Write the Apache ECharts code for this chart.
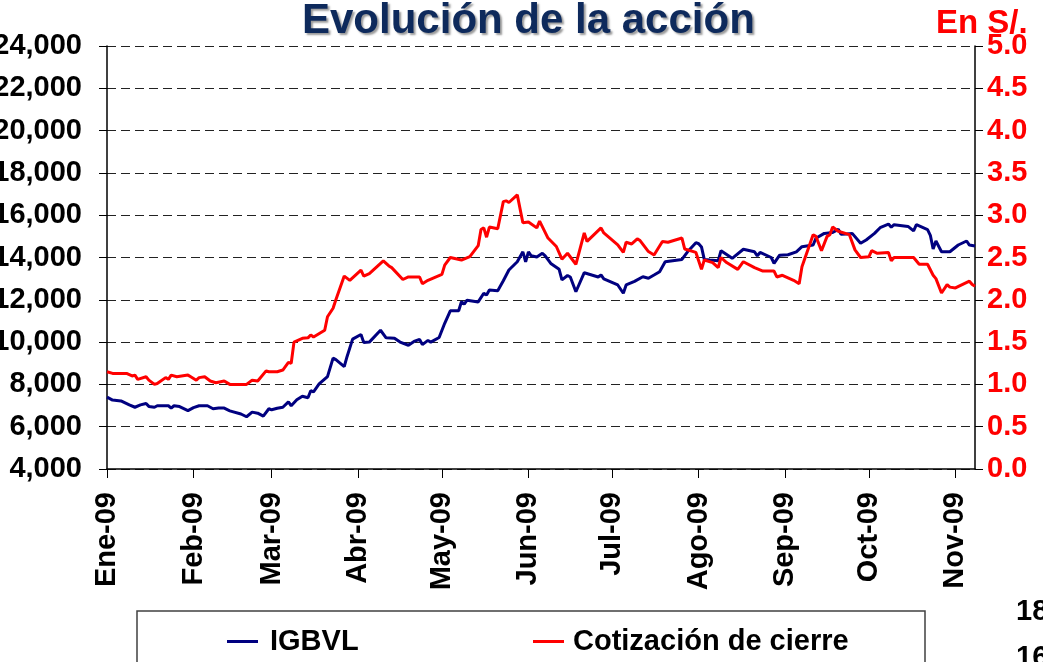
<!DOCTYPE html>
<html>
<head>
<meta charset="utf-8">
<script src="https://cdn.jsdelivr.net/npm/echarts@6/dist/echarts.min.js"></script>
<style>
  html, body { margin: 0; padding: 0; background: #fff; }
  #chart { width: 1043px; height: 662px; }
</style>
</head>
<body>
<div id="chart"></div>
<script>
// Month abbreviations used for the date axis labels
const monthNames = ['Ene', 'Feb', 'Mar', 'Abr', 'May', 'Jun', 'Jul', 'Ago', 'Sep', 'Oct', 'Nov', 'Dic'];
const firstDay = '2009-01-01';
const lastDay = '2009-11-08';

// IGBVL index (left axis)
const igbvl = [
  ['2009-01-01', 7400], ['2009-01-03', 7260], ['2009-01-06', 7220], ['2009-01-09', 7030],
  ['2009-01-11', 6920], ['2009-01-13', 7030], ['2009-01-15', 7100], ['2009-01-16', 6960],
  ['2009-01-18', 6920], ['2009-01-19', 6990], ['2009-01-23', 6990], ['2009-01-24', 6880],
  ['2009-01-25', 6990], ['2009-01-27', 6950], ['2009-01-30', 6760], ['2009-02-01', 6900],
  ['2009-02-03', 6990], ['2009-02-06', 6990], ['2009-02-08', 6850], ['2009-02-10', 6880],
  ['2009-02-12', 6880], ['2009-02-14', 6750], ['2009-02-18', 6600], ['2009-02-20', 6470],
  ['2009-02-22', 6690], ['2009-02-24', 6640], ['2009-02-26', 6500], ['2009-02-28', 6850],
  ['2009-03-01', 6800], ['2009-03-03', 6870], ['2009-03-05', 6920], ['2009-03-07', 7170],
  ['2009-03-08', 6990], ['2009-03-10', 7270], ['2009-03-12', 7440], ['2009-03-14', 7370],
  ['2009-03-15', 7700], ['2009-03-16', 7650], ['2009-03-18', 8020], ['2009-03-21', 8370],
  ['2009-03-23', 9240], ['2009-03-24', 9170], ['2009-03-27', 8840], ['2009-03-28', 9310],
  ['2009-03-30', 10140], ['2009-04-02', 10360], ['2009-04-03', 9980], ['2009-04-05', 10000],
  ['2009-04-09', 10560], ['2009-04-11', 10200], ['2009-04-14', 10180], ['2009-04-16', 10000],
  ['2009-04-19', 9850], ['2009-04-21', 10030], ['2009-04-23', 10130], ['2009-04-24', 9880],
  ['2009-04-26', 10080], ['2009-04-27', 10000], ['2009-04-30', 10220], ['2009-05-02', 10890],
  ['2009-05-04', 11480], ['2009-05-07', 11480], ['2009-05-08', 11910], ['2009-05-09', 11800],
  ['2009-05-10', 11980], ['2009-05-14', 11900], ['2009-05-16', 12310], ['2009-05-17', 12230],
  ['2009-05-18', 12460], ['2009-05-21', 12430], ['2009-05-23', 12900], ['2009-05-25', 13410],
  ['2009-05-28', 13800], ['2009-05-30', 14270], ['2009-05-31', 13800], ['2009-06-01', 14270],
  ['2009-06-02', 14080], ['2009-06-04', 14020], ['2009-06-06', 14200], ['2009-06-07', 14080],
  ['2009-06-09', 13720], ['2009-06-12', 13440], ['2009-06-13', 12940], ['2009-06-15', 13150],
  ['2009-06-16', 13080], ['2009-06-18', 12380], ['2009-06-21', 13280], ['2009-06-26', 13080],
  ['2009-06-27', 13180], ['2009-06-28', 12990], ['2009-07-03', 12700], ['2009-07-05', 12310],
  ['2009-07-06', 12700], ['2009-07-09', 12870], ['2009-07-12', 13090], ['2009-07-14', 13020],
  ['2009-07-16', 13170], ['2009-07-18', 13330], ['2009-07-20', 13800], ['2009-07-26', 13910],
  ['2009-07-28', 14270], ['2009-07-31', 14700], ['2009-08-01', 14650], ['2009-08-02', 14500],
  ['2009-08-03', 13910], ['2009-08-05', 13880], ['2009-08-08', 13850], ['2009-08-09', 14320],
  ['2009-08-13', 13960], ['2009-08-17', 14390], ['2009-08-21', 14270], ['2009-08-22', 14080],
  ['2009-08-23', 14240], ['2009-08-27', 14000], ['2009-08-28', 13720], ['2009-08-30', 14110],
  ['2009-09-02', 14130], ['2009-09-05', 14270], ['2009-09-07', 14510], ['2009-09-11', 14590],
  ['2009-09-12', 14910], ['2009-09-15', 15140], ['2009-09-18', 15180], ['2009-09-20', 15330],
  ['2009-09-21', 15100], ['2009-09-23', 15110], ['2009-09-25', 15140], ['2009-09-28', 14670],
  ['2009-09-30', 14830], ['2009-10-03', 15140], ['2009-10-05', 15410], ['2009-10-08', 15580],
  ['2009-10-09', 15430], ['2009-10-10', 15550], ['2009-10-15', 15470], ['2009-10-17', 15260],
  ['2009-10-18', 15550], ['2009-10-22', 15320], ['2009-10-23', 15050], ['2009-10-24', 14400],
  ['2009-10-25', 14780], ['2009-10-27', 14270], ['2009-10-30', 14270], ['2009-11-02', 14590],
  ['2009-11-05', 14780], ['2009-11-06', 14590], ['2009-11-08', 14540]
];

// Closing price in S/. (right axis)
const cotizacion = [
  ['2009-01-01', 1.15], ['2009-01-03', 1.13], ['2009-01-08', 1.13], ['2009-01-10', 1.10],
  ['2009-01-11', 1.11], ['2009-01-12', 1.06], ['2009-01-15', 1.09], ['2009-01-16', 1.05],
  ['2009-01-18', 1.00], ['2009-01-19', 1.01], ['2009-01-22', 1.08], ['2009-01-23', 1.06],
  ['2009-01-24', 1.11], ['2009-01-26', 1.09], ['2009-01-30', 1.11], ['2009-01-31', 1.09],
  ['2009-02-02', 1.05], ['2009-02-03', 1.08], ['2009-02-05', 1.09], ['2009-02-07', 1.04],
  ['2009-02-09', 1.02], ['2009-02-12', 1.04], ['2009-02-14', 1.00], ['2009-02-20', 1.00],
  ['2009-02-22', 1.05], ['2009-02-24', 1.04], ['2009-02-27', 1.16], ['2009-02-28', 1.15],
  ['2009-03-03', 1.15], ['2009-03-05', 1.17], ['2009-03-07', 1.26], ['2009-03-08', 1.25],
  ['2009-03-09', 1.50], ['2009-03-12', 1.545], ['2009-03-14', 1.55], ['2009-03-15', 1.585],
  ['2009-03-16', 1.56], ['2009-03-20', 1.64], ['2009-03-21', 1.80], ['2009-03-23', 1.90],
  ['2009-03-24', 2.00], ['2009-03-27', 2.28], ['2009-03-29', 2.23], ['2009-04-02', 2.35],
  ['2009-04-03', 2.28], ['2009-04-05', 2.31], ['2009-04-10', 2.46], ['2009-04-12', 2.40],
  ['2009-04-13', 2.38], ['2009-04-17', 2.24], ['2009-04-19', 2.27], ['2009-04-23', 2.27],
  ['2009-04-24', 2.19], ['2009-04-26', 2.23], ['2009-05-01', 2.30], ['2009-05-02', 2.41],
  ['2009-05-04', 2.50], ['2009-05-08', 2.47], ['2009-05-11', 2.51], ['2009-05-14', 2.64],
  ['2009-05-15', 2.83], ['2009-05-16', 2.85], ['2009-05-17', 2.74], ['2009-05-18', 2.86],
  ['2009-05-21', 2.84], ['2009-05-23', 3.16], ['2009-05-24', 3.17], ['2009-05-25', 3.15],
  ['2009-05-28', 3.24], ['2009-05-30', 2.91], ['2009-06-01', 2.92], ['2009-06-04', 2.85],
  ['2009-06-05', 2.93], ['2009-06-08', 2.73], ['2009-06-11', 2.63], ['2009-06-13', 2.48],
  ['2009-06-15', 2.55], ['2009-06-18', 2.42], ['2009-06-21', 2.79], ['2009-06-22', 2.69],
  ['2009-06-27', 2.85], ['2009-06-28', 2.79], ['2009-07-03', 2.65], ['2009-07-05', 2.56],
  ['2009-07-06', 2.68], ['2009-07-08', 2.66], ['2009-07-10', 2.72], ['2009-07-11', 2.70],
  ['2009-07-14', 2.57], ['2009-07-16', 2.53], ['2009-07-19', 2.69], ['2009-07-21', 2.68],
  ['2009-07-26', 2.73], ['2009-07-27', 2.60], ['2009-07-31', 2.56], ['2009-08-02', 2.36],
  ['2009-08-03', 2.47], ['2009-08-06', 2.44], ['2009-08-08', 2.38], ['2009-08-09', 2.50],
  ['2009-08-11', 2.44], ['2009-08-15', 2.36], ['2009-08-17', 2.45], ['2009-08-21', 2.38],
  ['2009-08-24', 2.34], ['2009-08-28', 2.34], ['2009-08-29', 2.27], ['2009-08-31', 2.29],
  ['2009-09-04', 2.23], ['2009-09-06', 2.19], ['2009-09-07', 2.39], ['2009-09-11', 2.77],
  ['2009-09-12', 2.75], ['2009-09-14', 2.58], ['2009-09-16', 2.75], ['2009-09-17', 2.77],
  ['2009-09-18', 2.86], ['2009-09-20', 2.81], ['2009-09-24', 2.77], ['2009-09-26', 2.59],
  ['2009-09-28', 2.50], ['2009-10-01', 2.51], ['2009-10-02', 2.58], ['2009-10-04', 2.55],
  ['2009-10-08', 2.56], ['2009-10-09', 2.46], ['2009-10-10', 2.50], ['2009-10-17', 2.50],
  ['2009-10-19', 2.42], ['2009-10-22', 2.42], ['2009-10-24', 2.29], ['2009-10-25', 2.25],
  ['2009-10-27', 2.08], ['2009-10-29', 2.18], ['2009-10-30', 2.15], ['2009-11-01', 2.14],
  ['2009-11-06', 2.22], ['2009-11-07', 2.18], ['2009-11-08', 2.16]
];

// Every calendar day between the first and last date, used as axis categories
function calendarDays(from, to) {
  const out = [];
  const end = Date.parse(to + 'T00:00:00Z');
  for (let t = Date.parse(from + 'T00:00:00Z'); t <= end; t += 86400000) {
    out.push(new Date(t).toISOString().slice(0, 10));
  }
  return out;
}
const days = calendarDays(firstDay, lastDay);
const isMonthStart = (i, v) => v.slice(8) === '01';
const monthLabel = v => monthNames[+v.slice(5, 7) - 1] + '-' + v.slice(2, 4);

const FONT = '"Liberation Sans", Arial, sans-serif';
const chart = echarts.init(document.getElementById('chart'), null, { renderer: 'canvas' });

chart.setOption({
  animation: false,
  backgroundColor: '#ffffff',
  title: {
    text: 'Evolución de la acción',
    left: 297,
    top: -5,
    textStyle: {
      fontFamily: FONT,
      fontSize: 42,
      fontWeight: 'bold',
      color: '#0e2a5c',
      textShadowColor: 'rgba(120,120,120,0.75)',
      textShadowOffsetX: 2,
      textShadowOffsetY: 2,
      textShadowBlur: 2
    }
  },
  grid: { left: 107, right: 68, top: 46, bottom: 193, containLabel: false, outerBoundsMode: 'none' },
  legend: [
    {
      data: ['IGBVL'],
      left: 222,
      top: 622,
      icon: 'rect',
      itemWidth: 31,
      itemHeight: 3,
      textStyle: { fontFamily: FONT, fontSize: 29, fontWeight: 'bold', color: '#000', padding: [0, 0, 0, 7] }
    },
    {
      data: ['Cotización de cierre'],
      left: 528,
      top: 622,
      icon: 'rect',
      itemWidth: 31,
      itemHeight: 3,
      textStyle: { fontFamily: FONT, fontSize: 29, fontWeight: 'bold', color: '#000', padding: [0, 0, 0, 4] }
    }
  ],
  graphic: [
    {
      type: 'rect',
      z: -1,
      shape: { x: 137, y: 611, width: 788, height: 70 },
      style: { fill: '#ffffff', stroke: '#404040', lineWidth: 1.5 }
    },
    {
      type: 'text',
      left: 936,
      top: 7,
      style: { text: 'En S/.', fill: '#ff0000', font: 'bold 33px ' + FONT }
    },
    {
      type: 'text',
      left: 1016,
      top: 597,
      style: { text: '18', fill: '#000', font: 'bold 29px ' + FONT }
    },
    {
      type: 'text',
      left: 1016,
      top: 643,
      style: { text: '16', fill: '#000', font: 'bold 29px ' + FONT }
    }
  ],
  xAxis: {
    type: 'category',
    data: days,
    boundaryGap: false,
    axisLine: { show: true, lineStyle: { color: '#000', width: 1.5 } },
    axisTick: { show: true, interval: isMonthStart, length: 9, lineStyle: { color: '#000', width: 1 } },
    axisLabel: {
      interval: isMonthStart,
      rotate: 90,
      margin: 23,
      formatter: monthLabel,
      fontFamily: FONT,
      fontSize: 29,
      fontWeight: 'bold',
      color: '#000'
    },
    splitLine: { show: false }
  },
  yAxis: [
    {
      type: 'value',
      min: 4000,
      max: 24000,
      interval: 2000,
      position: 'left',
      axisLine: { show: true, lineStyle: { color: '#000', width: 1.5 } },
      axisTick: { show: true, length: 8, lineStyle: { color: '#000' } },
      axisLabel: {
        margin: 25,
        formatter: v => v.toLocaleString('en-US'),
        fontFamily: FONT,
        fontSize: 29,
        fontWeight: 'bold',
        color: '#000'
      },
      splitLine: { show: true, lineStyle: { color: '#222', width: 1, type: [9, 5] } }
    },
    {
      type: 'value',
      min: 0,
      max: 5,
      interval: 0.5,
      position: 'right',
      axisLine: { show: true, lineStyle: { color: '#000', width: 1.5 } },
      axisTick: { show: true, length: 8, lineStyle: { color: '#000' } },
      axisLabel: {
        margin: 12,
        formatter: v => v.toFixed(1),
        fontFamily: FONT,
        fontSize: 29,
        fontWeight: 'bold',
        color: '#ff0000'
      },
      splitLine: { show: false }
    }
  ],
  series: [
    {
      name: 'IGBVL',
      type: 'line',
      yAxisIndex: 0,
      data: igbvl,
      showSymbol: false,
      symbol: 'none',
      color: '#000080',
      lineStyle: { color: '#000080', width: 3 }
    },
    {
      name: 'Cotización de cierre',
      type: 'line',
      yAxisIndex: 1,
      data: cotizacion,
      showSymbol: false,
      symbol: 'none',
      color: '#ff0000',
      lineStyle: { color: '#ff0000', width: 3 }
    }
  ]
});
</script>
</body>
</html>
